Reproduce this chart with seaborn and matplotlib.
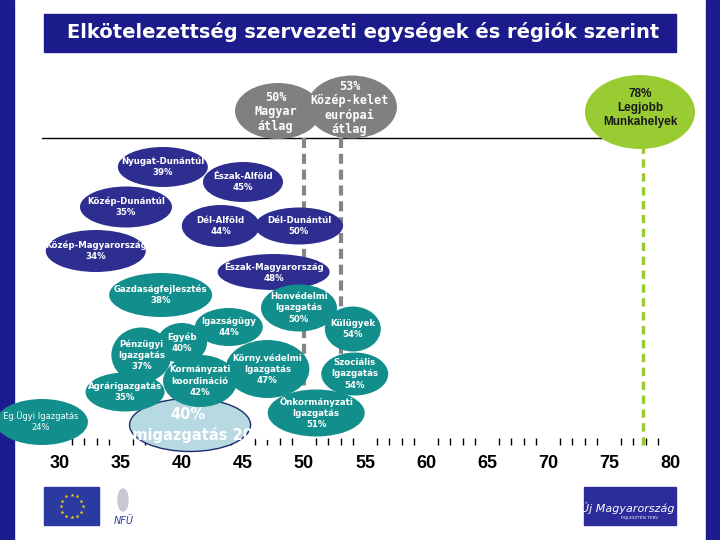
import matplotlib
matplotlib.use("Agg")
import matplotlib.pyplot as plt
from matplotlib.path import Path
from matplotlib.transforms import Affine2D
from matplotlib.patches import Rectangle, Ellipse
import numpy as np
import pandas as pd
import seaborn as sns

# ---- adatok (értékek) ----
names = [
    "Államigazgatás 2009", "Eg.Ügyi Igazgatás",
    "Nyugat-Dunántúl", "Észak-Alföld", "Közép-Dunántúl", "Dél-Alföld",
    "Dél-Dunántúl", "Közép-Magyarország", "Észak-Magyarország",
    "Gazdaságfejlesztés", "Igazságügy", "Egyéb", "Pénzügyi\nIgazgatás",
    "Agrárigazgatás", "Kormányzati\nkoordináció", "Körny.védelmi\nIgazgatás",
    "Honvédelmi\nIgazgatás", "Külügyek", "Szociális\nIgazgatás",
    "Önkormányzati\nIgazgatás",
    "Magyar\nátlag", "Közép-kelet\neurópai\nátlag", "Legjobb\nMunkahelyek",
]
values = [40, 24, 39, 45, 35, 44, 50, 34, 48, 38, 44, 40, 37, 35, 42, 47,
          50, 54, 54, 51, 50, 53, 78]
groups = ["total", "unit"] + ["region"] * 7 + ["unit"] * 11 + ["avg", "avg", "best"]

# átlagok / benchmark (függőleges szaggatott vonalak)
ref_values = [50, 53, 78]
ref_groups = ["avg", "avg", "best"]

tick_values = list(range(30, 81, 5))

# ---- elrendezés (pixelben, a dia alapján) ----
x_nudge = [0.66, 4.52, -0.57, 0.0, 0.41, -0.82, -0.41, -1.07, -0.49,
           0.25, -0.16, 0.0, -0.33, 0.33, -0.52, 0.0, -0.41, 0.0, 0.16, 0.0,
           -2.13, 0.93, -0.46]
y_pos = [425, 422, 167, 182, 207, 226, 226, 251, 272, 295, 327, 343, 355,
         392, 381, 369, 308, 329, 374, 413, 111, 107, 112]
widths = [121, 92, 90, 80, 92, 78, 88, 100, 112, 103, 68, 50, 60, 79, 74,
          84, 76, 56, 67, 97, 86, 90, 110]
heights = [53, 46, 40, 40, 41, 42, 37, 42, 36, 44, 38, 40, 55, 39, 52, 58,
           47, 45, 43, 47, 56, 63, 74]

palette = {"region": "#2e2e91", "unit": "#128f8c", "total": "#b6d9e2",
           "avg": "#808080", "best": "#99cc33"}

sns.set_theme(style="white")
plt.rcParams["font.family"] = ["DejaVu Sans"]

df = pd.DataFrame({"name": names, "value": values, "group": groups})
df["x"] = df["value"] + np.array(x_nudge)
df["y"] = y_pos


def ellipse_marker(w, h):
    return Path.unit_circle().transformed(Affine2D().scale(1.0, h / w))


markers = {n: ellipse_marker(w, h) for n, w, h in zip(names, widths, heights)}
sizes = {n: (w * 0.72) ** 2 for n, w in zip(names, widths)}
edges = ["#1f2a6e" if g == "total" else "none" for g in groups]
lws = [1.0 if g == "total" else 0.0 for g in groups]

fig = plt.figure(figsize=(7.2, 5.4), dpi=100)
fig.patch.set_facecolor("white")

# háttér: a dia két oldalsó kék sávja (a buborékok alatt)
bg = fig.add_axes([0, 0, 1, 1], zorder=0)
bg.set_xlim(0, 720)
bg.set_ylim(540, 0)
bg.axis("off")
navy = "#1c1c8e"
bg.add_patch(Rectangle((0, 0), 14, 540, color=navy))
bg.add_patch(Rectangle((706, 0), 14, 540, color=navy))

px_per_unit = 12.2
ax = fig.add_axes([0, 1 - 438 / 540, 1, 438 / 540], zorder=1)
ax.patch.set_alpha(0)
ax.set_xlim(30 - 60 / px_per_unit, 30 + 660 / px_per_unit)
ax.set_ylim(438, 0)

# vízszintes vonal és szaggatott referencia vonalak
ax.axhline(138, xmin=42 / 720, xmax=668 / 720, color="black", lw=1, zorder=1)
for v, g in zip(ref_values, ref_groups):
    if g == "best":
        ax.vlines(v - 0.2, 145, 446, colors=palette[g], lw=2.5,
                  linestyles=(0, (2.4, 1.6)), zorder=1, clip_on=False)
    else:
        ax.vlines(v, 138, 438, colors="#858585", lw=3,
                  linestyles=(0, (2.4, 1.4)), zorder=1)

sns.scatterplot(data=df, x="x", y="y", hue="group", palette=palette,
                style="name", markers=markers, size="name", sizes=sizes,
                edgecolor=edges, linewidth=lws, legend=False, clip_on=False,
                zorder=3, ax=ax)

for _, r in df.iterrows():
    if r["value"] == 24:
        # a bal szélen lévő, kisebb betűs buborék
        ax.text(r["x"] - 0.1, r["y"], f"{r['name']}\n{r['value']}%",
                ha="center", va="center", color="white", fontsize=6,
                linespacing=1.3, zorder=4, clip_on=False)
    elif r["group"] in ("region", "unit"):
        ax.text(r["x"], r["y"], f"{r['name']}\n{r['value']}%", ha="center",
                va="center", color="white", fontsize=6.2, fontweight="bold",
                linespacing=1.3, zorder=4, clip_on=False)
    elif r["group"] == "total":
        ax.text(r["x"] - 0.2, r["y"], f"{r['value']}%\n{r['name']}",
                ha="center", va="center", color="white", fontsize=10.5,
                fontweight="bold", linespacing=1.15, zorder=4, clip_on=False)
    elif r["group"] == "avg":
        ax.text(r["x"] - 0.2, r["y"] + 1, f"{r['value']}%\n{r['name']}",
                ha="center", va="center", color="white", fontsize=8.5,
                family="DejaVu Sans Mono", fontweight="bold",
                linespacing=1.12, zorder=4, clip_on=False)
    else:
        ax.text(r["x"], r["y"] - 4, f"{r['value']}%\n{r['name']}",
                ha="center", va="center", color="#1a1a1a", fontsize=8.5,
                family=["Liberation Sans", "DejaVu Sans"], fontweight="bold",
                linespacing=1.25, zorder=4, clip_on=False)

# tengely
ax.set_xticks(tick_values)
ax.set_xticklabels([str(t) for t in tick_values], fontsize=13,
                   fontweight="bold", family=["Liberation Sans", "DejaVu Sans"])
ax.set_xticks([v for v in range(31, 80) if v % 5], minor=True)
ax.tick_params(axis="x", which="major", length=0, pad=12, colors="black")
ax.tick_params(axis="x", which="minor", length=5, width=1, direction="out",
               color="black", bottom=True)
ax.set_yticks([])
ax.set_xlabel("")
ax.set_ylabel("")
for s in ax.spines.values():
    s.set_visible(False)

# cím és logók
ov = fig.add_axes([0, 0, 1, 1], zorder=10)
ov.set_xlim(0, 720)
ov.set_ylim(540, 0)
ov.axis("off")
ov.add_patch(Rectangle((44, 14), 632, 38, color="#1b1b8c"))
ov.text(67, 32, "Elkötelezettség szervezeti egységek és régiók szerint",
        color="white", fontsize=14, fontweight="bold", ha="left", va="center")

ov.add_patch(Rectangle((44, 487), 55, 38, color="#2b3aa0"))
ang = np.linspace(0, 2 * np.pi, 13)[:-1]
ov.scatter(71.5 + 11 * np.cos(ang), 506 + 11 * np.sin(ang), marker="*",
           s=9, color="#f2d600", linewidths=0)
ov.add_patch(Ellipse((123, 500), 10, 22, color="#c8c8d0"))
ov.text(124, 521, "NFÜ", color="#2b3aa0", fontsize=7, fontstyle="italic",
        ha="center", va="center")
ov.add_patch(Rectangle((584, 487), 92, 38, color="#2b2b9b"))
ov.text(628, 508, "Új Magyarország", color="white", fontsize=8,
        fontstyle="italic", ha="center", va="center")
ov.text(640, 518, "FEJLESZTÉSI TERV", color="white", fontsize=3,
        ha="center", va="center")

fig.savefig("out.png", dpi=100)
